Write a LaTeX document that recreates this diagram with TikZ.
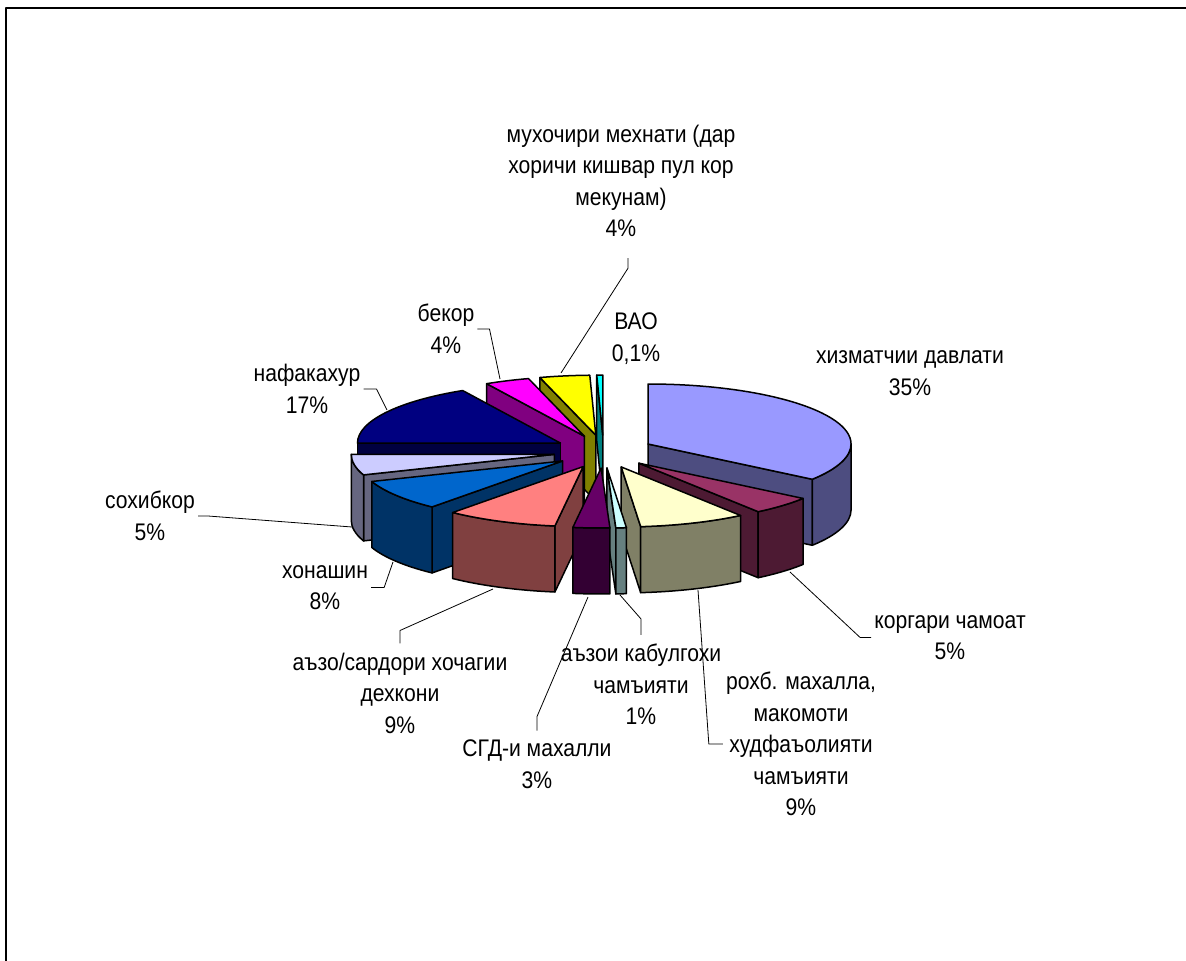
\documentclass[tikz,border=0pt]{standalone}
\usepackage{fontspec}
\setmainfont{Liberation Sans}[FakeStretch=0.88]
\usetikzlibrary{calc}
\definecolor{davlattop}{HTML}{9999FF}
\definecolor{davlatside}{HTML}{4D4D80}
\definecolor{jamoattop}{HTML}{993366}
\definecolor{jamoatside}{HTML}{4D1A33}
\definecolor{mahallatop}{HTML}{FFFFCC}
\definecolor{mahallaside}{HTML}{808066}
\definecolor{qabultop}{HTML}{CCFFFF}
\definecolor{qabulside}{HTML}{668080}
\definecolor{sgdtop}{HTML}{660066}
\definecolor{sgdside}{HTML}{330033}
\definecolor{dehqontop}{HTML}{FF8080}
\definecolor{dehqonside}{HTML}{804040}
\definecolor{xonashintop}{HTML}{0066CC}
\definecolor{xonashinside}{HTML}{003366}
\definecolor{sohibkortop}{HTML}{CCCCFF}
\definecolor{sohibkorside}{HTML}{666680}
\definecolor{nafaqatop}{HTML}{000080}
\definecolor{nafaqaside}{HTML}{000040}
\definecolor{bekortop}{HTML}{FF00FF}
\definecolor{bekorside}{HTML}{800080}
\definecolor{muhojirtop}{HTML}{FFFF00}
\definecolor{muhojirside}{HTML}{808000}
\definecolor{vaotop}{HTML}{00FFFF}
\definecolor{vaoside}{HTML}{008080}

\begin{document}
\begin{tikzpicture}[x=1pt,y=1pt,x radius=203,y radius=60,line join=round,
  face/.style={draw=black,line width=1.5pt},
  lbl/.style={align=center,inner xsep=3pt,inner ysep=9pt,font=\fontsize{24}{31.5}\selectfont},
  lead/.style={draw=black,line width=0.8pt}]
\useasboundingbox (0,0) rectangle (1186,-961);
\draw[line width=2.2pt] (6,-961) -- (6,-8) -- (1186,-8);

% centre of the pie and the apex of every exploded slice
\coordinate (C) at (603.5,-451.5);
\coordinate (davlat) at ($(C)+(27:50 and 16.5)$);
\coordinate (jamoat) at ($(C)+(-45:50 and 16.5)$);
\coordinate (mahalla) at ($(C)+(-69.25:50 and 16.5)$);
\coordinate (qabul) at ($(C)+(-86:50 and 16.5)$);
\coordinate (sgd) at ($(C)+(-92.75:50 and 16.5)$);
\coordinate (dehqon) at ($(C)+(-114:50 and 16.5)$);
\coordinate (xonashin) at ($(C)+(-145:50 and 16.5)$);
\coordinate (sohibkor) at ($(C)+(-170:50 and 16.5)$);
\coordinate (nafaqa) at ($(C)+(149.4:50 and 16.5)$);
\coordinate (bekor) at ($(C)+(112.4:50 and 16.5)$);
\coordinate (muhojir) at ($(C)+(98.85:50 and 16.5)$);
\coordinate (vao) at ($(C)+(90.85:50 and 16.5)$);

% back slices first
\draw[face,fill=vaoside] (vao) -- ++(91.7:203 and 60) -- ++(0,-66) -- ++(271.7:203 and 60) -- cycle;
\draw[face,fill=vaotop] (vao) -- ++(91.7:203 and 60) arc[start angle=91.7,end angle=90] -- cycle;

\draw[face,fill=muhojirside] (muhojir) -- ++(106:203 and 60) -- ++(0,-66) -- ++(286:203 and 60) -- cycle;
\draw[face,fill=muhojirtop] (muhojir) -- ++(106:203 and 60) arc[start angle=106,end angle=91.7] -- cycle;

\draw[face,fill=bekorside] (bekor) -- ++(118.8:203 and 60) -- ++(0,-66) -- ++(298.8:203 and 60) -- cycle;
\draw[face,fill=bekortop] (bekor) -- ++(118.8:203 and 60) arc[start angle=118.8,end angle=106] -- cycle;

\draw[face,fill=nafaqaside] (nafaqa) -- ++(180:203 and 60) -- ++(0,-66) -- ++(0:203 and 60) -- cycle;
\draw[face,fill=nafaqatop] (nafaqa) -- ++(180:203 and 60) arc[start angle=180,end angle=118.8] -- cycle;

\draw[face,fill=davlatside] (davlat) -- ++(-36:203 and 60) -- ++(0,-66) -- ++(144:203 and 60) -- cycle;
\draw[face,fill=davlatside] ($(davlat)+(0:203 and 60)$) arc[start angle=0,end angle=-36] -- ++(0,-66) arc[start angle=-36,end angle=0] -- cycle;
\draw[face,fill=davlattop] (davlat) -- ++(90:203 and 60) arc[start angle=90,end angle=-36] -- cycle;

\draw[face,fill=sohibkorside] (sohibkor) -- ++(-160:203 and 60) -- ++(0,-66) -- ++(20:203 and 60) -- cycle;
\draw[face,fill=sohibkorside] ($(sohibkor)+(-160:203 and 60)$) arc[start angle=-160,end angle=-180] -- ++(0,-66) arc[start angle=-180,end angle=-160] -- cycle;
\draw[face,fill=sohibkortop] (sohibkor) -- ++(-160:203 and 60) arc[start angle=-160,end angle=-180] -- cycle;

\draw[face,fill=xonashinside] (xonashin) -- ++(-130:203 and 60) -- ++(0,-66) -- ++(50:203 and 60) -- cycle;
\draw[face,fill=xonashinside] ($(xonashin)+(-130:203 and 60)$) arc[start angle=-130,end angle=-160] -- ++(0,-66) arc[start angle=-160,end angle=-130] -- cycle;
\draw[face,fill=xonashintop] (xonashin) -- ++(-130:203 and 60) arc[start angle=-130,end angle=-160] -- cycle;

\draw[face,fill=jamoatside] (jamoat) -- ++(-54:203 and 60) -- ++(0,-66) -- ++(126:203 and 60) -- cycle;
\draw[face,fill=jamoatside] ($(jamoat)+(-36:203 and 60)$) arc[start angle=-36,end angle=-54] -- ++(0,-66) arc[start angle=-54,end angle=-36] -- cycle;
\draw[face,fill=jamoattop] (jamoat) -- ++(-36:203 and 60) arc[start angle=-36,end angle=-54] -- cycle;

\draw[face,fill=dehqonside] (dehqon) -- ++(-98:203 and 60) -- ++(0,-66) -- ++(82:203 and 60) -- cycle;
\draw[face,fill=dehqonside] ($(dehqon)+(-98:203 and 60)$) arc[start angle=-98,end angle=-130] -- ++(0,-66) arc[start angle=-130,end angle=-98] -- cycle;
\draw[face,fill=dehqontop] (dehqon) -- ++(-98:203 and 60) arc[start angle=-98,end angle=-130] -- cycle;

\draw[face,fill=mahallaside] (mahalla) -- ++(-84.5:203 and 60) -- ++(0,-66) -- ++(95.5:203 and 60) -- cycle;
\draw[face,fill=mahallaside] ($(mahalla)+(-54:203 and 60)$) arc[start angle=-54,end angle=-84.5] -- ++(0,-66) arc[start angle=-84.5,end angle=-54] -- cycle;
\draw[face,fill=mahallatop] (mahalla) -- ++(-54:203 and 60) arc[start angle=-54,end angle=-84.5] -- cycle;

\draw[face,fill=qabulside] (qabul) -- ++(-87.5:203 and 60) -- ++(0,-66) -- ++(92.5:203 and 60) -- cycle;
\draw[face,fill=qabulside] ($(qabul)+(-84.5:203 and 60)$) arc[start angle=-84.5,end angle=-87.5] -- ++(0,-66) arc[start angle=-87.5,end angle=-84.5] -- cycle;
\draw[face,fill=qabultop] (qabul) -- ++(-84.5:203 and 60) arc[start angle=-84.5,end angle=-87.5] -- cycle;

\draw[face,fill=sgdside] ($(sgd)+(-87.5:203 and 60)$) arc[start angle=-87.5,end angle=-98] -- ++(0,-66) arc[start angle=-98,end angle=-87.5] -- cycle;
\draw[face,fill=sgdtop] (sgd) -- ++(-87.5:203 and 60) arc[start angle=-87.5,end angle=-98] -- cycle;

% labels
\node[lbl] (muhojirlbl) at (621,-181) {мухочири мехнати (дар\\хоричи кишвар пул кор\\мекунам)\\4\%};
\node[lbl] (vaolbl) at (636,-338.5) {ВАО\\0,1\%};
\node[lbl] (bekorlbl) at (446,-329) {бекор\\4\%};
\node[lbl] (nafaqalbl) at (307,-389) {нафакахур\\17\%};
\node[lbl] (davlatlbl) at (910,-373) {хизматчии давлати\\35\%};
\node[lbl] (sohibkorlbl) at (150,-516) {сохибкор\\5\%};
\node[lbl] (xonashinlbl) at (325,-587.5) {хонашин\\8\%};
\node[lbl] (dehqonlbl) at (400,-693) {аъзо/сардори хочагии\\дехкони\\9\%};
\node[lbl] (sgdlbl) at (537,-764) {СГД-и махалли\\3\%};
\node[lbl] (qabullbl) at (641,-684.5) {аъзои кабулгохи\\чамъияти\\1\%};
\node[lbl] (mahallalbl) at (801,-744) {рохб. махалла,\\макомоти\\худфаъолияти\\чамъияти\\9\%};
\node[lbl] (jamoatlbl) at (950,-637.5) {коргари чамоат\\5\%};

% leader lines
\coordinate (muhojirtip) at (561,-373);
\coordinate (bekortip) at (500,-379);
\coordinate (nafaqatip) at (387,-410);
\coordinate (sohibkortip) at (352,-527);
\coordinate (xonashintip) at (393,-562);
\coordinate (dehqontip) at (493,-589);
\coordinate (sgdtip) at (588,-597);
\coordinate (qabultip) at (620,-595);
\coordinate (mahallatip) at (698,-590);
\coordinate (jamoattip) at (790,-572);
\draw[lead] ([xshift=7pt,yshift=-12pt]muhojirlbl.south) -- ++(0,-10) -- (muhojirtip);
\draw[lead] (bekorlbl.east) -- ++(12,0) -- (bekortip);
\draw[lead] (nafaqalbl.east) -- ++(13,0) -- (nafaqatip);
\draw[lead] (sohibkorlbl.east) -- ++(10,0) -- (sohibkortip);
\draw[lead] (xonashinlbl.east) -- ++(13,0) -- (xonashintip);
\draw[lead] (dehqonlbl.north) -- ++(0,13) -- (dehqontip);
\draw[lead] (sgdlbl.north) -- ++(0,14) -- (sgdtip);
\draw[lead] (qabullbl.north) -- ++(0,16) -- (qabultip);
\draw[lead] (mahallalbl.west) -- ++(-14,0) -- (mahallatip);
\draw[lead] (jamoatlbl.west) -- ++(-11,0) -- (jamoattip);
\end{tikzpicture}
\end{document}
